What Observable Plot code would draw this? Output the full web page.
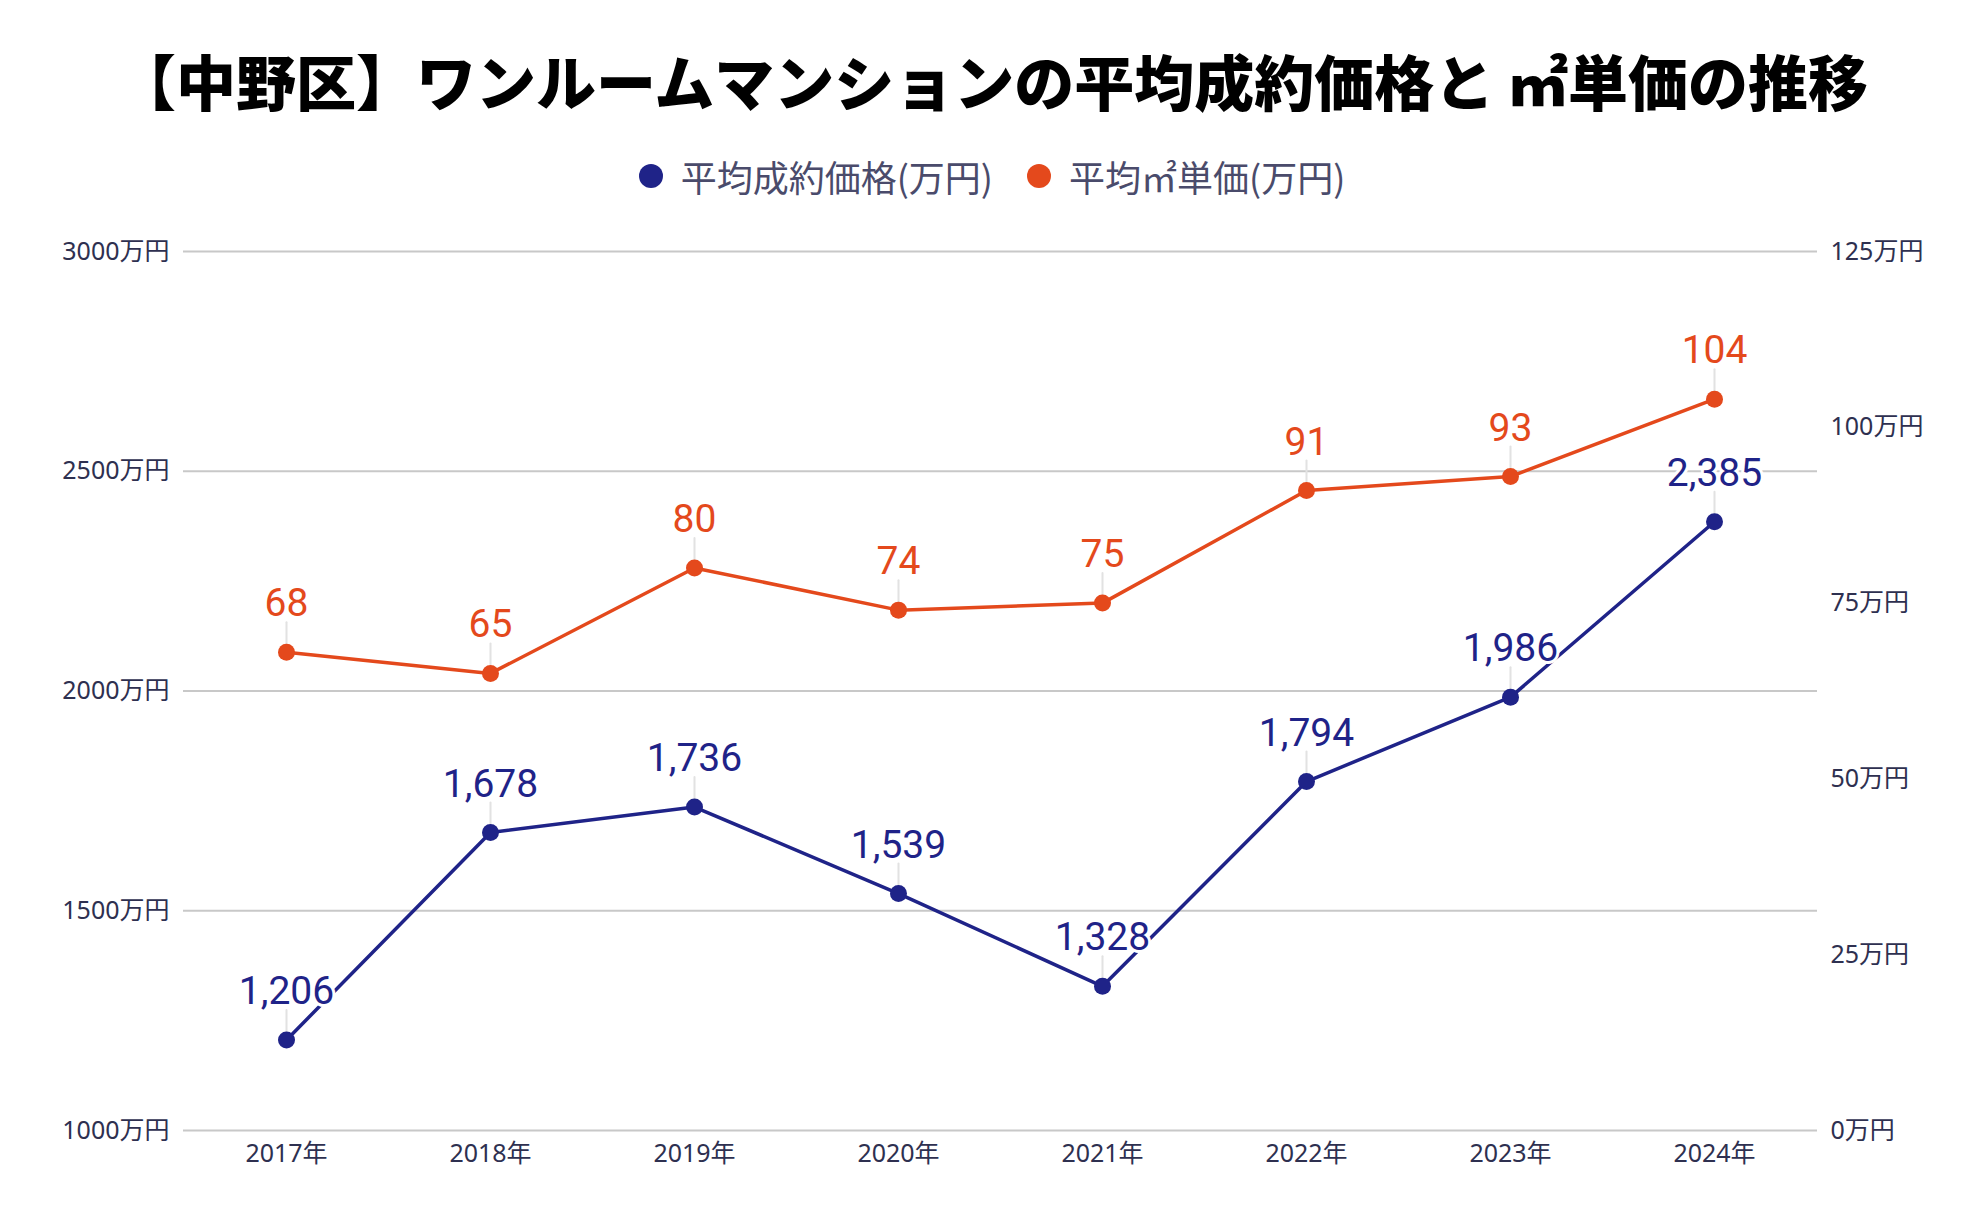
<!DOCTYPE html>
<html>
<head>
<meta charset="utf-8">
<script src="https://cdn.jsdelivr.net/npm/d3@7"></script>
<script src="https://cdn.jsdelivr.net/npm/@observablehq/plot@0.6"></script>
<style>
  html, body { margin: 0; padding: 0; background: #ffffff; }
  #wrap { width: 1984px; height: 1228px; position: relative; overflow: hidden; }
  #title { margin: 0; padding-top: 50px; height: 60px; line-height: 60px; text-align: center;
    font-family: "Noto Sans CJK JP", sans-serif; font-weight: 900; font-size: 60px; color: #000; white-space: nowrap; }
  #legend { margin-top: 42px; height: 40px; line-height: 40px; text-align: center;
    font-family: "Noto Sans CJK JP", sans-serif; font-size: 36px; color: #4a4b6b; white-space: nowrap; }
  #legend .item { display: inline-flex; align-items: center; margin: 0 17px; }
  #legend .sw { display: inline-block; width: 24px; height: 24px; border-radius: 50%; margin-right: 18px; }
  #chart { margin-top: 18px; }
</style>
</head>
<body>
<div id="wrap">
  <div id="title">【中野区】ワンルームマンションの平均成約価格と ㎡単価の推移</div>
  <div id="legend"></div>
  <div id="chart"></div>
</div>
<script>
const years = ["2017年","2018年","2019年","2020年","2021年","2022年","2023年","2024年"];
const avgPrice = [1206, 1678, 1736, 1539, 1328, 1794, 1986, 2385];
const unitPrice = [68, 65, 80, 74, 75, 91, 93, 104];
const leftTicks = [1000, 1500, 2000, 2500, 3000];
const rightTicks = [0, 25, 50, 75, 100, 125];
const seriesNames = ["平均成約価格(万円)", "平均㎡単価(万円)"];
const seriesColors = ["#1f2388", "#e4491c"];

// right axis (0–125) mapped onto left domain (1000–3000)
const toLeft = v => 1000 + v * 2000 / 125;
const fromLeft = d => Math.round((d - 1000) * 125 / 2000);

const blue = years.map((x, i) => ({x, y: avgPrice[i], label: d3.format(",")(avgPrice[i])}));
const orange = years.map((x, i) => ({x, y: toLeft(unitPrice[i]), label: String(unitPrice[i])}));

// legend
const legend = document.getElementById("legend");
seriesNames.forEach((n, i) => {
  const s = document.createElement("span");
  s.className = "item";
  s.innerHTML = `<span class="sw" style="background:${seriesColors[i]}"></span>${n}`;
  legend.appendChild(s);
});

const stem = {draw(context, l) { context.moveTo(0, 0); context.lineTo(0, -l); }};
const tickColor = "#2e3050";

const plot = Plot.plot({
  width: 1984,
  height: 1018,
  marginTop: 41,
  marginBottom: 98,
  marginLeft: 183,
  marginRight: 167,
  style: {fontFamily: "'Noto Sans', 'Noto Sans CJK JP', sans-serif", fontSize: "25px", background: "white"},
  x: {type: "point", domain: years, padding: 0.5, label: null},
  y: {domain: [1000, 3000], label: null},
  marks: [
    Plot.gridY(leftTicks, {stroke: "#c8c8c8", strokeOpacity: 1, strokeWidth: 2}),
    Plot.axisY(leftTicks, {anchor: "left", tickSize: 0, tickPadding: 14, tickFormat: d => d + "万円", color: tickColor, fontSize: 25, label: null}),
    Plot.axisY(rightTicks.map(toLeft), {anchor: "right", tickSize: 0, tickPadding: 13, tickFormat: d => fromLeft(d) + "万円", color: tickColor, fontSize: 25, label: null}),
    Plot.axisX({tickSize: 0, tickPadding: 14, color: tickColor, fontSize: 25, label: null}),
    Plot.vector(blue, {x: "x", y: "y", length: 30, rotate: 0, anchor: "start", shape: stem, stroke: "#e2e2e2", strokeWidth: 2}),
    Plot.vector(orange, {x: "x", y: "y", length: 30, rotate: 0, anchor: "start", shape: stem, stroke: "#e2e2e2", strokeWidth: 2}),
    Plot.line(orange, {x: "x", y: "y", stroke: seriesColors[1], strokeWidth: 3.5}),
    Plot.line(blue, {x: "x", y: "y", stroke: seriesColors[0], strokeWidth: 3.5}),
    Plot.dot(orange, {x: "x", y: "y", r: 8.5, fill: seriesColors[1]}),
    Plot.dot(blue, {x: "x", y: "y", r: 8.5, fill: seriesColors[0]}),
    Plot.text(orange, {x: "x", y: "y", text: "label", dy: -36, lineAnchor: "bottom", fill: seriesColors[1], fontSize: 39, fontFamily: "Roboto, sans-serif", stroke: "white", strokeWidth: 6, paintOrder: "stroke"}),
    Plot.text(blue, {x: "x", y: "y", text: "label", dy: -36, lineAnchor: "bottom", fill: seriesColors[0], fontSize: 39, fontFamily: "Roboto, sans-serif", stroke: "white", strokeWidth: 6, paintOrder: "stroke"})
  ]
});
document.getElementById("chart").appendChild(plot);
</script>
</body>
</html>
